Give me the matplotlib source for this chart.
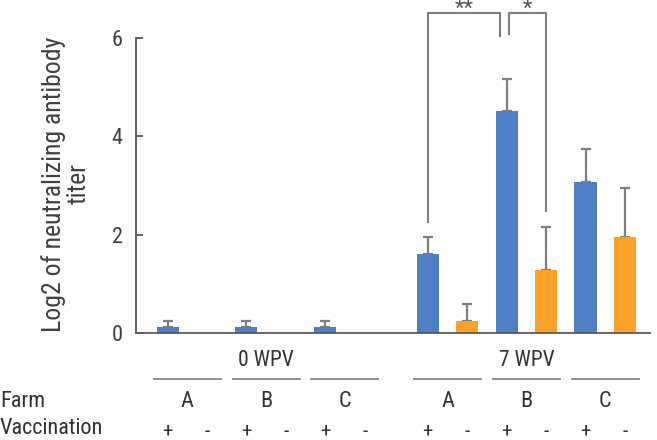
import matplotlib.pyplot as plt
import matplotlib.transforms as mtransforms
import numpy as np

plt.rcParams['font.family'] = ['Roboto Condensed', 'DejaVu Sans']

# data
weeks = ['0 WPV', '7 WPV']
farms = ['A', 'B', 'C', 'A', 'B', 'C']
vacc_mean = [0.13, 0.13, 0.13, 1.61, 4.51, 3.08]
vacc_err = [0.11, 0.11, 0.11, 0.35, 0.66, 0.66]
unvacc_mean = [0.0, 0.0, 0.0, 0.25, 1.29, 1.96]
unvacc_err = [0.0, 0.0, 0.0, 0.35, 0.87, 0.98]
yticks = [0, 2, 4, 6]

blue = '#4f7ec4'
orange = '#fca22a'
gray = '#7f7f7f'
txt = '#333333'

fig = plt.figure(figsize=(6.57, 4.40), dpi=100)
ax = fig.add_axes([0.207, 0.243, 0.782, 0.671])

gap = 0.6
xb = np.array([2 * i + (gap if i >= 3 else 0) for i in range(len(farms))])
xo = xb + 1
w = 0.56

ax.bar(xb, vacc_mean, width=w, color=blue, zorder=2)
ax.bar(xo, unvacc_mean, width=w, color=orange, zorder=2)

ax.errorbar(xb, vacc_mean, yerr=[np.zeros(len(xb)), vacc_err], fmt='none',
            ecolor=gray, elinewidth=1.6, capsize=3.8, capthick=1.6, zorder=1)
m = np.array(unvacc_err) > 0
ax.errorbar(xo[m], np.array(unvacc_mean)[m],
            yerr=[np.zeros(m.sum()), np.array(unvacc_err)[m]], fmt='none',
            ecolor=gray, elinewidth=1.6, capsize=3.8, capthick=1.6, zorder=1)

ax.set_xlim(-0.80, 12.23)
ax.set_ylim(0, 6)
ax.set_yticks(yticks)
ax.set_xticks([])
for s in ['top', 'right']:
    ax.spines[s].set_visible(False)
for s in ['left', 'bottom']:
    ax.spines[s].set_color('#595959')
    ax.spines[s].set_linewidth(1.3)
ax.tick_params(axis='y', direction='in', length=5, width=1.3, color='#595959',
               pad=9.5, labelsize=16, labelcolor='#404040')

fig.text(66 / 657, 1 - 184 / 440, 'Log2 of neutralizing antibody\ntiter',
         rotation=90, ha='center', va='center', fontsize=18.5, color='#404040',
         multialignment='center', linespacing=1.0)

# significance brackets
bk = dict(color=gray, lw=1.5, clip_on=False)
top = 6.51
l1, r1 = xb[3], xb[4] - 0.16
ax.plot([l1, l1, r1, r1], [2.26, top, top, 6.04], **bk)
l2, r2 = xb[4] + 0.05, xo[4]
ax.plot([l2, l2, r2, r2], [6.07, top, top, 2.48], **bk)
ax.text((l1 + r1) / 2, 6.79, '**', ha='center', va='top', fontsize=16,
        color='#555555', clip_on=False)
ax.text((l2 + r2) / 2, 6.79, '*', ha='center', va='top', fontsize=16,
        color='#555555', clip_on=False)

# table below the axis
pc = (xb + xo) / 2
for k, wk in enumerate(weeks):
    c = (pc[3 * k] + pc[3 * k + 2]) / 2
    ax.text(c, -0.55, wk, ha='center', va='center', fontsize=15.5, color=txt,
            clip_on=False)
for i, f in enumerate(farms):
    ax.plot([pc[i] - 0.85, pc[i] + 0.85], [-0.93, -0.93], color='#888888',
            lw=1.3, clip_on=False)
    ax.text(pc[i], -1.40, f, ha='center', va='center', fontsize=16, color=txt,
            clip_on=False)
    ax.text(xb[i], -2.0, '+', ha='center', va='center', fontsize=15,
            color=txt, clip_on=False)
    ax.text(xo[i], -2.0, '-', ha='center', va='center', fontsize=15,
            color=txt, clip_on=False)

tr = mtransforms.blended_transform_factory(fig.transFigure, ax.transData)
ax.text(0.0, -1.40, 'Farm', transform=tr, ha='left', va='center',
        fontsize=16, color=txt, clip_on=False)
ax.text(0.0, -1.93, 'Vaccination', transform=tr, ha='left', va='center',
        fontsize=16, color=txt, clip_on=False)

fig.savefig('out.png', dpi=100)
